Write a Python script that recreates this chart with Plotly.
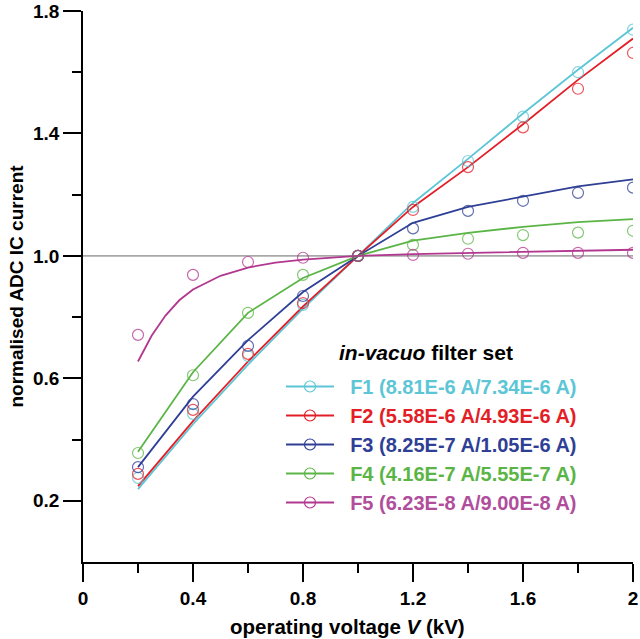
import plotly.graph_objects as go

# ---- data ----
voltage = [0.2, 0.4, 0.6, 0.8, 1.0, 1.2, 1.4, 1.6, 1.8, 2.0]

meas_F1 = [0.275, 0.484, 0.673, 0.840, 1.0, 1.160, 1.310, 1.455, 1.600, 1.739]
meas_F2 = [0.288, 0.497, 0.680, 0.846, 1.0, 1.150, 1.290, 1.420, 1.546, 1.663]
meas_F3 = [0.310, 0.516, 0.706, 0.869, 1.0, 1.090, 1.147, 1.180, 1.206, 1.223]
meas_F4 = [0.356, 0.610, 0.814, 0.938, 1.0, 1.036, 1.056, 1.068, 1.076, 1.082]
meas_F5 = [0.742, 0.938, 0.980, 0.994, 1.0, 1.003, 1.007, 1.010, 1.010, 1.010]

fit_F1 = [0.238, 0.450, 0.645, 0.828, 1.0, 1.173, 1.317, 1.465, 1.608, 1.745]
fit_F2 = [0.248, 0.460, 0.655, 0.835, 1.0, 1.160, 1.290, 1.430, 1.575, 1.710]
fit_F3 = [0.310, 0.540, 0.725, 0.882, 1.0, 1.108, 1.160, 1.193, 1.227, 1.250]
fit_F4 = [0.360, 0.620, 0.814, 0.928, 1.0, 1.050, 1.075, 1.095, 1.110, 1.120]

voltage_F5_fit = [0.2, 0.25, 0.3, 0.35, 0.4, 0.5, 0.6, 0.7, 0.8, 0.9, 1.0,
                  1.2, 1.4, 1.6, 1.8, 2.0]
fit_F5 = [0.655, 0.740, 0.805, 0.855, 0.890, 0.935, 0.962, 0.978, 0.988, 0.995, 1.0,
          1.006, 1.010, 1.013, 1.016, 1.020]

labels = ["F1 (8.81E-6 A/7.34E-6 A)", "F2 (5.58E-6 A/4.93E-6 A)",
          "F3 (8.25E-7 A/1.05E-6 A)", "F4 (4.16E-7 A/5.55E-7 A)",
          "F5 (6.23E-8 A/9.00E-8 A)"]
legend_title = "<b><i>in-vacuo</i> filter set</b>"
x_title = "<b>operating voltage <i>V</i> (kV)</b>"
y_title = "<b>normalised ADC IC current</b>"

x_tick_vals = [0, 0.4, 0.8, 1.2, 1.6, 2.0]
x_tick_text = ["0", "0.4", "0.8", "1.2", "1.6", "2"]
y_tick_vals = [0.2, 0.6, 1.0, 1.4, 1.8]
y_tick_text = ["0.2", "0.6", "1.0", "1.4", "1.8"]

# ---- styles ----
line_colors = ["#5CC6D6", "#E41E26", "#2E3F95", "#5BB546", "#B2378F"]
text_colors = ["#5CC6D6", "#E41E26", "#2E3F95", "#5BB546", "#B04E9C"]
FONT = "Arial, Liberation Sans, sans-serif"

fits_x = [voltage, voltage, voltage, voltage, voltage_F5_fit]
fits_y = [fit_F1, fit_F2, fit_F3, fit_F4, fit_F5]
meas_y = [meas_F1, meas_F2, meas_F3, meas_F4, meas_F5]

fig = go.Figure()

for i in range(5):
    fig.add_trace(go.Scatter(
        x=fits_x[i], y=fits_y[i], mode="lines",
        line=dict(color=line_colors[i], width=1.8),
        showlegend=False, hoverinfo="skip"))
for i in range(5):
    fig.add_trace(go.Scatter(
        x=voltage, y=meas_y[i], mode="markers",
        marker=dict(symbol="circle-open", size=11, color=line_colors[i],
                    opacity=0.75, line=dict(width=1.2, color=line_colors[i])),
        showlegend=False))
# legend entries
for i in range(5):
    fig.add_trace(go.Scatter(
        x=[None], y=[None], mode="lines+markers",
        line=dict(color=line_colors[i], width=1.8),
        marker=dict(symbol="circle-open", size=11, color=line_colors[i],
                    line=dict(width=1.2, color=line_colors[i])),
        name=f"&nbsp;&nbsp;<span style='color:{text_colors[i]}'><b>{labels[i]}</b></span>"))

fig.add_shape(type="line", xref="x", yref="y", x0=0, x1=2, y0=1, y1=1,
              line=dict(color="#A8A8A8", width=1.6), layer="below")

fig.add_annotation(text=legend_title, xref="paper", yref="paper",
                   x=0.6245, y=0.381, xanchor="center", yanchor="middle",
                   showarrow=False, font=dict(family=FONT, size=21, color="black"))
fig.add_annotation(text=x_title, xref="paper", yref="paper",
                   x=0.4818, y=-0.117, xanchor="center", yanchor="middle",
                   showarrow=False, font=dict(family=FONT, size=20.5, color="black"))

fig.update_layout(
    width=640, height=639,
    margin=dict(l=83, r=7, t=11, b=77),
    plot_bgcolor="white", paper_bgcolor="white",
    font=dict(family=FONT, size=19, color="black"),
    legend=dict(
        x=0.36, y=0.3539, xanchor="left", yanchor="top",
        bgcolor="rgba(255,255,255,0)",
        font=dict(family=FONT, size=20),
        itemwidth=48,
    ),
    xaxis=dict(
        range=[0, 2], showgrid=False, zeroline=False, automargin=False,
        showline=True, linecolor="black", linewidth=1.5,
        ticks="outside", ticklen=18, tickwidth=1.5, tickcolor="black",
        tickvals=x_tick_vals, ticktext=x_tick_text, ticklabelstandoff=0,
        tickfont=dict(family=FONT, size=19, weight="bold"),
        minor=dict(tickvals=[0.2, 0.6, 1.0, 1.4, 1.8], ticks="outside",
                   ticklen=9, tickwidth=1.5, tickcolor="black"),
    ),
    yaxis=dict(
        range=[0, 1.8], showgrid=False, zeroline=False, automargin=False,
        showline=True, linecolor="black", linewidth=1.5,
        ticks="outside", ticklen=18, tickwidth=1.5, tickcolor="black",
        tickvals=y_tick_vals, ticktext=y_tick_text,
        tickfont=dict(family=FONT, size=19, weight="bold"),
        minor=dict(tickvals=[0.4, 0.8, 1.2, 1.6], ticks="outside",
                   ticklen=9, tickwidth=1.5, tickcolor="black"),
        title=dict(text=y_title, font=dict(family=FONT, size=19), standoff=4),
    ),
)

fig.write_html("out.html", config={"displayModeBar": False},
               post_script="document.body.style.margin='0';")
